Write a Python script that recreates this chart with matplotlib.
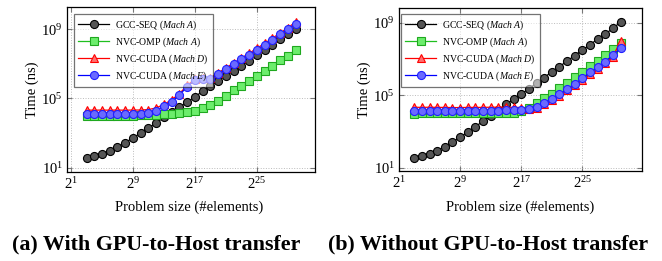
import matplotlib
matplotlib.use("Agg")
import matplotlib.pyplot as plt
from matplotlib.ticker import NullLocator

plt.rcParams['font.family'] = ['Liberation Serif', 'DejaVu Serif']
plt.rcParams['mathtext.fontset'] = 'custom'
plt.rcParams['mathtext.rm'] = 'Liberation Serif'
plt.rcParams['mathtext.it'] = 'Liberation Serif:italic'

# problem sizes 2^3 .. 2^30 (#elements)
sizes = [8, 16, 32, 64, 128, 256, 512, 1024, 2048, 4096, 8192, 16384,
         32768, 65536, 131072, 262144, 524288, 1048576, 2097152, 4194304,
         8388608, 16777216, 33554432, 67108864, 134217728, 268435456,
         536870912, 1073741824]

# (a) with GPU-to-Host transfer, time in ns
gcc_a = [38, 47, 63, 95, 151, 282, 525, 1.0e3, 1.95e3, 3.8e3, 8.3e3, 1.58e4,
         3.09e4, 6.03e4, 1.26e5, 2.57e5, 5.25e5, 1.07e6, 2.09e6, 4.07e6,
         7.94e6, 1.55e7, 3.09e7, 6.31e7, 1.29e8, 2.63e8, 5.13e8, 1.0e9]
omp_a = [1.0e4, 1.0e4, 1.0e4, 1.0e4, 1.0e4, 1.02e4, 1.02e4, 1.05e4, 1.07e4,
         1.12e4, 1.2e4, 1.29e4, 1.38e4, 1.55e4, 1.95e4, 2.69e4, 4.17e4,
         7.41e4, 1.45e5, 2.95e5, 5.5e5, 1.07e6, 2.0e6, 4.07e6, 7.94e6,
         1.62e7, 2.95e7, 6.31e7]
cuda_d_a = [2.14e4, 2.09e4, 2.14e4, 2.09e4, 2.14e4, 2.09e4, 2.14e4, 2.14e4,
            2.29e4, 2.82e4, 4.57e4, 8.32e4, 1.91e5, 5.62e5, 1.35e6, 1.55e6,
            1.62e6, 3.02e6, 5.75e6, 1.12e7, 2.14e7, 4.07e7, 7.94e7, 1.51e8,
            3.02e8, 6.03e8, 1.2e9, 2.63e9]
cuda_e_a = [1.32e4, 1.29e4, 1.29e4, 1.26e4, 1.29e4, 1.29e4, 1.26e4, 1.32e4,
            1.48e4, 2.0e4, 3.72e4, 6.61e4, 1.58e5, 4.79e5, 1.17e6, 1.35e6,
            1.41e6, 2.51e6, 4.79e6, 9.33e6, 1.78e7, 3.39e7, 6.61e7, 1.26e8,
            2.51e8, 5.01e8, 1.0e9, 2.09e9]

# (b) without GPU-to-Host transfer, time in ns
gcc_b = [37, 44, 59, 87, 148, 257, 513, 912, 1.91e3, 3.72e3, 7.24e3, 1.55e4,
         3.24e4, 6.03e4, 1.2e5, 2.34e5, 4.68e5, 9.55e5, 2.04e6, 3.89e6,
         7.94e6, 1.58e7, 3.24e7, 6.17e7, 1.32e8, 2.45e8, 5.13e8, 1.1e9]
omp_b = [1.0e4, 1.02e4, 1.02e4, 1.05e4, 1.05e4, 1.05e4, 1.05e4, 1.05e4,
         1.07e4, 1.07e4, 1.07e4, 1.1e4, 1.1e4, 1.12e4, 1.32e4, 2.14e4,
         4.07e4, 7.24e4, 1.26e5, 2.69e5, 5.13e5, 1.0e6, 2.04e6, 4.27e6,
         8.32e6, 1.7e7, 3.55e7, 7.59e7]
cuda_d_b = [2.24e4, 2.19e4, 2.24e4, 2.19e4, 2.19e4, 2.14e4, 2.14e4, 2.19e4,
            2.19e4, 2.19e4, 2.24e4, 2.24e4, 2.24e4, 2.19e4, 2.14e4, 1.78e4,
            1.91e4, 3.16e4, 5.37e4, 9.77e4, 1.91e5, 3.55e5, 7.41e5, 1.58e6,
            3.02e6, 6.17e6, 1.41e7, 1.0e8]
cuda_e_b = [1.41e4, 1.41e4, 1.41e4, 1.41e4, 1.41e4, 1.32e4, 1.32e4, 1.32e4,
            1.32e4, 1.32e4, 1.41e4, 1.45e4, 1.48e4, 1.48e4, 1.48e4, 1.78e4,
            2.4e4, 3.98e4, 6.46e4, 1.17e5, 2.29e5, 4.27e5, 8.91e5, 1.91e6,
            3.63e6, 7.41e6, 1.7e7, 3.98e7]

labels = ['GCC-SEQ ($\\mathit{Mach\\ A}$)', 'NVC-OMP ($\\mathit{Mach\\ A}$)',
          'NVC-CUDA ($\\mathit{Mach\\ D}$)', 'NVC-CUDA ($\\mathit{Mach\\ E}$)']
xticks = [2, 2**9, 2**17, 2**25]
xticklabels = ['$2^{1}$', '$2^{9}$', '$2^{17}$', '$2^{25}$']
yticks = [10, 1e5, 1e9]
yticklabels = ['$10^{1}$', '$10^{5}$', '$10^{9}$']
captions = ['(a) With GPU-to-Host transfer', '(b) Without GPU-to-Host transfer']

styles = [
    dict(color='black', marker='o', mfc='#555555', mec='black'),
    dict(color='#1fbf1f', marker='s', mfc='#6ced6c', mec='#1fa81f'),
    dict(color='red', marker='^', mfc='#ff7070', mec='red'),
    dict(color='blue', marker='o', mfc='#6a6aff', mec='#2020ff'),
]


def draw(ax, series, xlim, ylim, legend_at):
	for ys, lab, st in zip(series, labels, styles):
		ax.plot(sizes, ys, label=lab, lw=0.9, ms=5.8, mew=0.8, **st)
	ax.set_xscale('log', base=2)
	ax.set_yscale('log')
	ax.set_xlim(*xlim)
	ax.set_ylim(*ylim)
	ax.set_xticks(xticks)
	ax.set_xticklabels(xticklabels)
	ax.set_yticks(yticks)
	ax.set_yticklabels(yticklabels)
	ax.xaxis.set_minor_locator(NullLocator())
	ax.yaxis.set_minor_locator(NullLocator())
	ax.tick_params(direction='in', top=True, right=True, length=3.5,
	               color='#777777', labelsize=10.5, pad=3)
	ax.grid(True, ls=':', color='#bbbbbb', lw=0.7)
	for s in ax.spines.values():
		s.set_linewidth(0.9)
	ax.set_ylabel('Time (ns)', fontsize=10.5, labelpad=2)
	leg = ax.legend(loc='upper left', bbox_to_anchor=legend_at, fontsize=7,
	                handlelength=3.2, borderaxespad=0, fancybox=False,
	                edgecolor='black', framealpha=0.55, borderpad=0.45,
	                labelspacing=0.35, handletextpad=0.6)
	leg.get_frame().set_linewidth(0.9)


fig = plt.figure(figsize=(6.62, 2.61), dpi=100)
ax1 = fig.add_axes([0.1012, 0.341, 0.3746, 0.632])
ax2 = fig.add_axes([0.6027, 0.345, 0.367, 0.6245])

draw(ax1, [gcc_a, omp_a, cuda_d_a, cuda_e_a], (2**0.48, 2**32.5),
     (10**0.75, 10**10.28), (0.028, 0.958))
draw(ax2, [gcc_b, omp_b, cuda_d_b, cuda_e_b], (2**1.0, 2**32.8),
     (10**0.83, 10**9.83), (0.008, 0.963))

fig.text(0.286, 0.207, 'Problem size (#elements)', ha='center', va='center', fontsize=10.5)
fig.text(0.786, 0.207, 'Problem size (#elements)', ha='center', va='center', fontsize=10.5)
fig.text(0.236, 0.062, captions[0], ha='center', va='center', fontsize=15.8, fontweight='bold')
fig.text(0.737, 0.062, captions[1], ha='center', va='center', fontsize=15.8, fontweight='bold')

fig.savefig('out.png', dpi=100)
plt.close(fig)
